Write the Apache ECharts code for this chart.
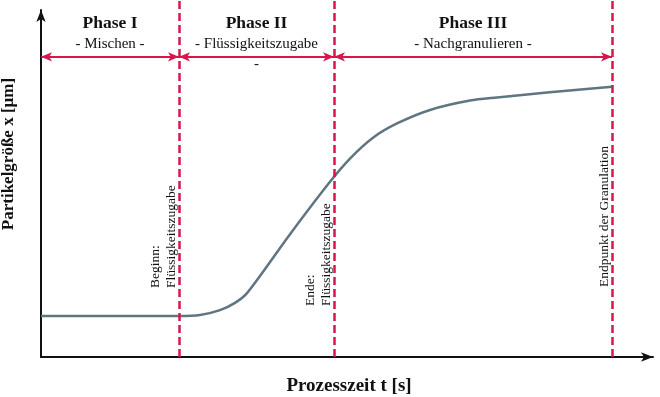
<!DOCTYPE html>
<html>
<head>
<meta charset="utf-8">
<script src="https://cdn.jsdelivr.net/npm/echarts@6/dist/echarts.min.js"></script>
<style>
  html, body { margin: 0; padding: 0; background: #fff; }
  #chart { width: 660px; height: 397px; }
</style>
</head>
<body>
<div id="chart"></div>
<script>
// Prozesszeit t (willkürliche Einheiten, 0..100) und Partikelgröße x (0..100)
var zeit = [0, 22.55, 25.98, 29.25, 31.70, 33.66, 40.69, 47.22, 50.49, 54.25, 58.17, 63.56, 70.10, 74.51, 82.68, 93.30];
var groesse = [11.8, 11.8, 12.1, 13.5, 15.6, 18.4, 35.4, 50.5, 57.2, 63.2, 67.3, 71.2, 73.9, 74.8, 76.2, 77.9];

// Phasengrenzen auf der Zeitachse
var grenzen = [0, 22.55, 47.88, 93.30];
var pfeilHoehe = 86.5;

var phasenTitel = ['Phase I', 'Phase II', 'Phase III'];
var phasenText = ['- Mischen -', '- Flüssigkeitszugabe\n-', '- Nachgranulieren -'];

// Beschriftungen an den senkrechten Linien
var markenIndex = [1, 2, 3];
var markenText = ['Beginn:\nFlüssigkeitszugabe', 'Ende:\nFlüssigkeitszugabe', 'Endpunkt der Granulation'];
var markenUnten = [288, 306, 287];

var rot = '#d5174b';
var serif = 'Liberation Serif, Times New Roman, serif';

var chart = echarts.init(document.getElementById('chart'));

var kurve = zeit.map(function (t, i) { return [t, groesse[i]]; });

var pfeile = [];
for (var i = 0; i < 3; i++) {
  pfeile.push([{ coord: [grenzen[i], pfeilHoehe] }, { coord: [grenzen[i + 1], pfeilHoehe] }]);
}

var option = {
  animation: false,
  grid: [
    { left: 41, right: 7, top: 10, bottom: 40 },
    { left: 41, right: 7, top: 0, bottom: 40 }
  ],
  xAxis: [
    {
      gridIndex: 0, type: 'value', min: 0, max: 100,
      axisLine: { show: true, lineStyle: { color: '#111', width: 2 }, symbol: ['none', 'arrow'], symbolSize: [7, 12] },
      axisTick: { show: false }, axisLabel: { show: false }, splitLine: { show: false }
    },
    { gridIndex: 1, type: 'value', min: 0, max: 100, show: false }
  ],
  yAxis: [
    {
      gridIndex: 0, type: 'value', min: 0, max: 100,
      axisLine: { show: true, lineStyle: { color: '#111', width: 2 }, symbol: ['none', 'arrow'], symbolSize: [7, 12] },
      axisTick: { show: false }, axisLabel: { show: false }, splitLine: { show: false }
    },
    { gridIndex: 1, type: 'value', min: 0, max: 100, show: false }
  ],
  series: [
    {
      // senkrechte Phasengrenzen
      type: 'line', xAxisIndex: 1, yAxisIndex: 1,
      data: [[0, 0]], showSymbol: false, lineStyle: { opacity: 0 },
      z: 1,
      markLine: {
        silent: true, symbol: 'none', animation: false,
        label: { show: false },
        lineStyle: { color: rot, width: 2.5, type: [8, 4] },
        data: grenzen.slice(1).map(function (g) { return { xAxis: g }; })
      }
    },
    {
      type: 'line', xAxisIndex: 0, yAxisIndex: 0,
      data: kurve, smooth: 0.3,
      showSymbol: false, symbol: 'none',
      lineStyle: { color: '#5f7580', width: 2.5 },
      z: 3,
      markLine: {
        silent: true, animation: false,
        symbol: ['arrow', 'arrow'], symbolSize: [7, 11],
        label: { show: false },
        lineStyle: { color: rot, width: 2, type: 'solid' },
        data: pfeile
      }
    }
  ]
};
chart.setOption(option);

// Texte
var g = [];
for (var k = 0; k < 3; k++) {
  var mitte = chart.convertToPixel({ gridIndex: 0 }, [(grenzen[k] + grenzen[k + 1]) / 2, pfeilHoehe]);
  g.push({
    type: 'text', x: mitte[0], y: mitte[1] - 33,
    style: { text: phasenTitel[k], font: 'bold 17.5px ' + serif, fill: '#111', textAlign: 'center', textVerticalAlign: 'middle', align: 'center', verticalAlign: 'middle' }
  });
  g.push({
    type: 'text', x: mitte[0], y: mitte[1] - 23,
    style: { text: phasenText[k], font: '15px ' + serif, fill: '#111', lineHeight: 20, textAlign: 'center', textVerticalAlign: 'top', align: 'center', verticalAlign: 'top' }
  });
}
for (var m = 0; m < 3; m++) {
  var p = chart.convertToPixel({ gridIndex: 0 }, [grenzen[markenIndex[m]], 0]);
  g.push({
    type: 'text', x: p[0], y: markenUnten[m], rotation: Math.PI / 2,
    style: { text: markenText[m], font: '13.5px ' + serif, fill: '#111', lineHeight: 16, textAlign: 'left', textVerticalAlign: 'bottom', align: 'left', verticalAlign: 'bottom' }
  });
}
g.push({
  type: 'text', x: 9, y: 154, rotation: Math.PI / 2,
  style: { text: 'Partikelgröße x [µm]', font: 'bold 17px ' + serif, fill: '#111', textAlign: 'center', textVerticalAlign: 'middle', align: 'center', verticalAlign: 'middle' }
});
g.push({
  type: 'text', x: 349, y: 386,
  style: { text: 'Prozesszeit t [s]', font: 'bold 19px ' + serif, fill: '#111', textAlign: 'center', textVerticalAlign: 'middle', align: 'center', verticalAlign: 'middle' }
});
chart.setOption({ graphic: g });
</script>
</body>
</html>
